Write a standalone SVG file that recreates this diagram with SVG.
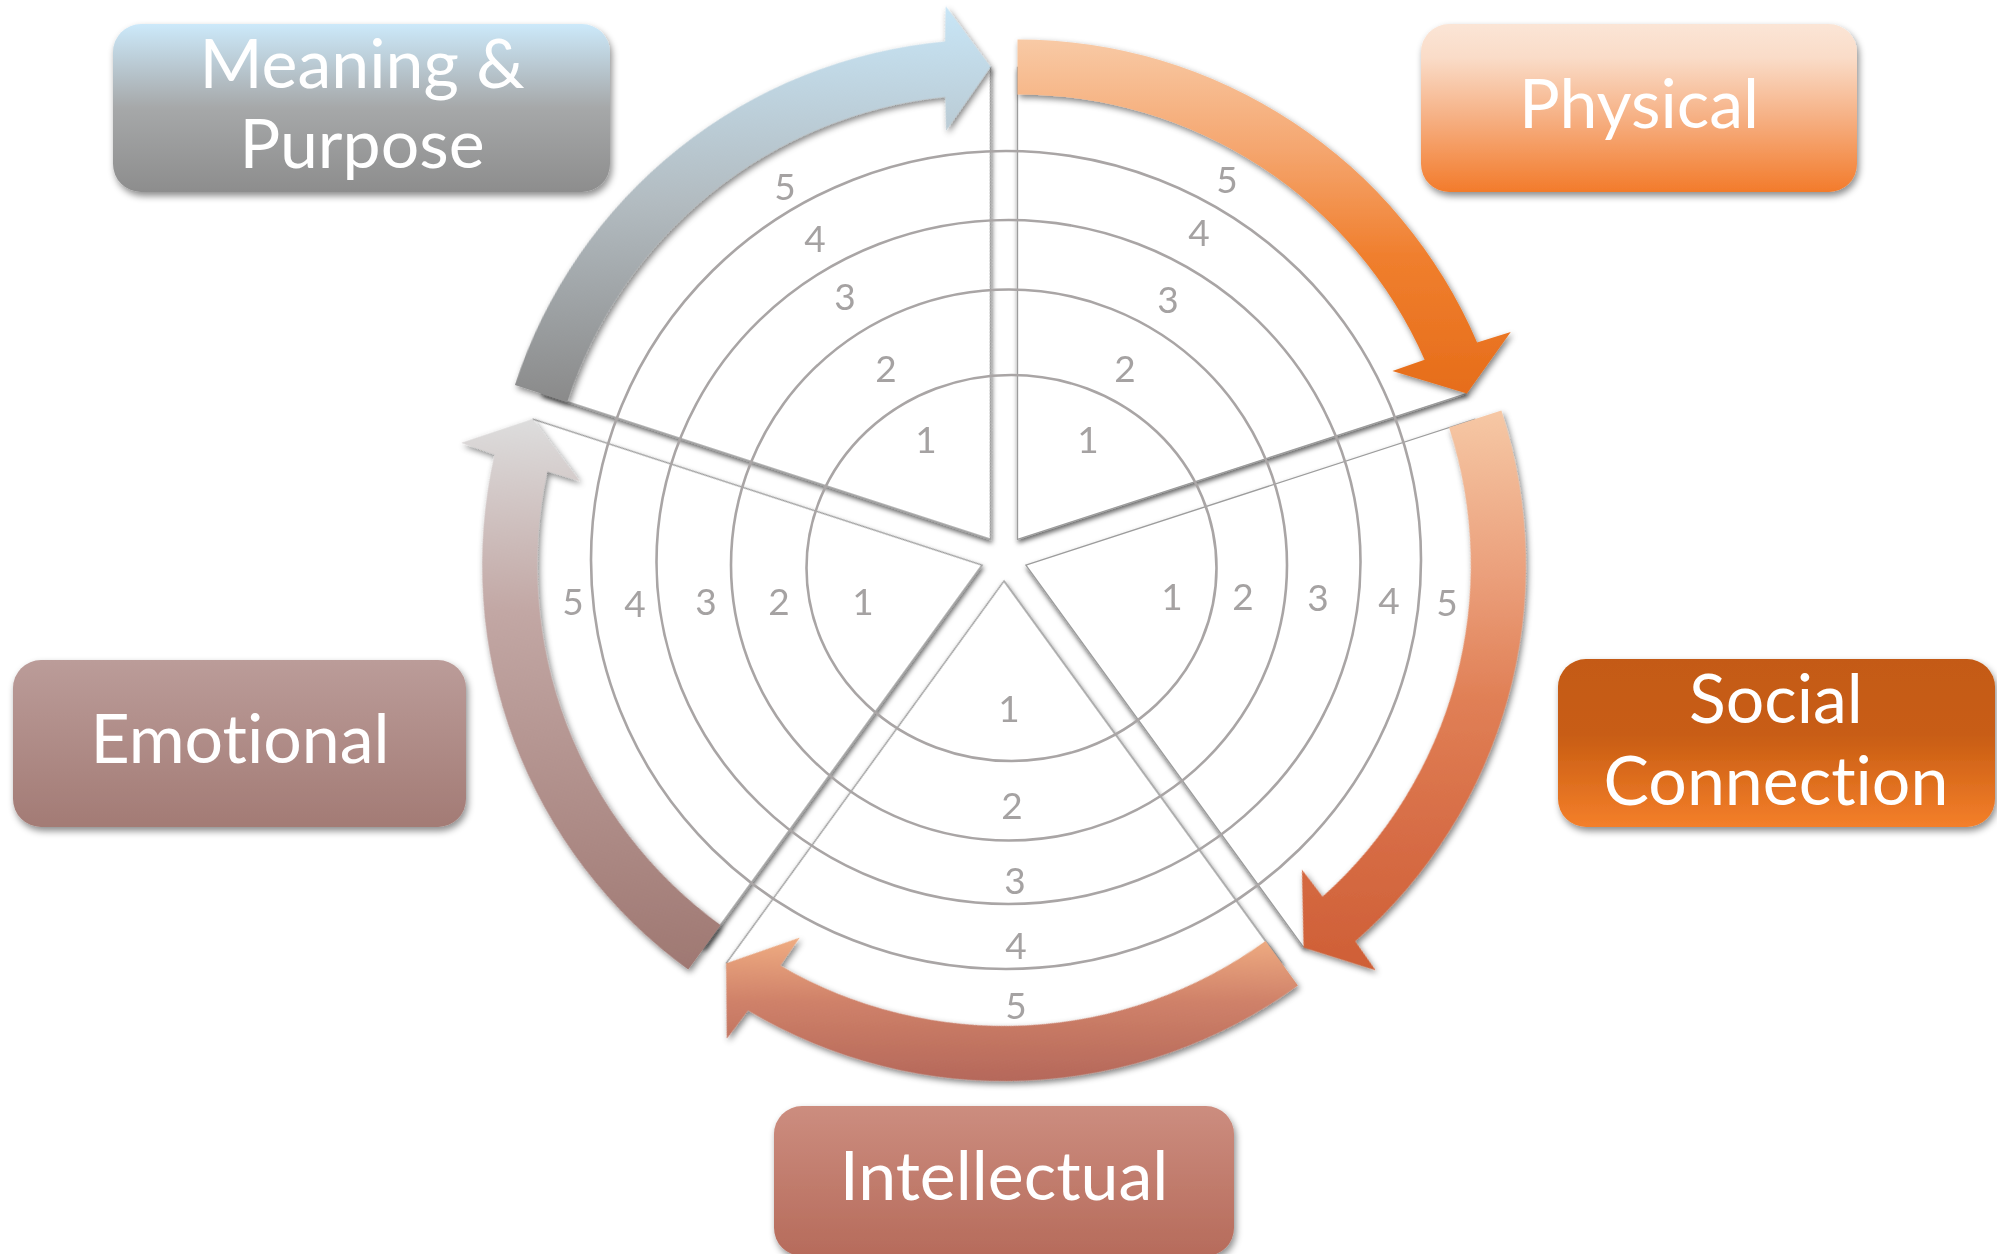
<svg xmlns="http://www.w3.org/2000/svg" width="1997" height="1254" viewBox="0 0 1997 1254">
  <style>
    .ring { fill: none; stroke: #a9a5a5; stroke-width: 2.6; }
    .wedge { fill: #ffffff; stroke: #9c9c9c; stroke-width: 1.3; }
    .num { font-family: Lato, "Open Sans", "Liberation Sans", sans-serif; font-size: 37px; fill: #a5a2a2; text-anchor: middle; }
    .title { font-family: Lato, "Open Sans", "Liberation Sans", sans-serif; font-size: 68px; fill: #ffffff; text-anchor: middle; font-variant-ligatures: none; font-feature-settings: "liga" 0, "clig" 0; }
  </style>
  <defs>
    <!-- soft shadow for the white pie wedges -->
    <filter id="wedgeShadow" x="-5%" y="-5%" width="110%" height="110%">
      <feGaussianBlur in="SourceAlpha" stdDeviation="2.8"/>
      <feOffset dx="1" dy="2.5" result="blur"/>
      <feFlood flood-color="#000000" flood-opacity="0.6"/>
      <feComposite in2="blur" operator="in"/>
      <feMerge><feMergeNode/><feMergeNode in="SourceGraphic"/></feMerge>
    </filter>
    <!-- shadow for the curved block arrows -->
    <filter id="arrowShadow" x="-5%" y="-5%" width="110%" height="110%">
      <feGaussianBlur in="SourceAlpha" stdDeviation="3"/>
      <feOffset dx="1.5" dy="3" result="blur"/>
      <feFlood flood-color="#000000" flood-opacity="0.5"/>
      <feComposite in2="blur" operator="in"/>
      <feMerge><feMergeNode/><feMergeNode in="SourceGraphic"/></feMerge>
    </filter>
    <!-- shadow for the label boxes -->
    <filter id="boxShadow" x="-5%" y="-10%" width="112%" height="125%">
      <feGaussianBlur in="SourceAlpha" stdDeviation="3.5"/>
      <feOffset dx="2" dy="4" result="blur"/>
      <feFlood flood-color="#000000" flood-opacity="0.45"/>
      <feComposite in2="blur" operator="in"/>
      <feMerge><feMergeNode/><feMergeNode in="SourceGraphic"/></feMerge>
    </filter>

    <!-- arrow fills: vertical in page space, undoing each arrow's rotation -->
    <linearGradient id="gPhysArrow" gradientUnits="userSpaceOnUse" x1="0" y1="39" x2="0" y2="393" gradientTransform="rotate(90) translate(-1017.52,-539.39)">
      <stop offset="0" stop-color="#f8caa6"/>
      <stop offset="0.31" stop-color="#f5a66f"/>
      <stop offset="0.61" stop-color="#f07f2e"/>
      <stop offset="1" stop-color="#e66d1a"/>
    </linearGradient>
    <linearGradient id="gSocArrow" gradientUnits="userSpaceOnUse" x1="0" y1="410" x2="0" y2="970" gradientTransform="rotate(18) translate(-1025.87,-565.11)">
      <stop offset="0" stop-color="#f6c8a5"/>
      <stop offset="0.29" stop-color="#eba07c"/>
      <stop offset="0.52" stop-color="#e07f55"/>
      <stop offset="0.75" stop-color="#d76d46"/>
      <stop offset="1" stop-color="#cf5f36"/>
    </linearGradient>
    <linearGradient id="gIntArrow" gradientUnits="userSpaceOnUse" x1="0" y1="937" x2="0" y2="1081" gradientTransform="rotate(-54) translate(-1004,-581)">
      <stop offset="0" stop-color="#f0ad82"/>
      <stop offset="0.45" stop-color="#cf8169"/>
      <stop offset="1" stop-color="#b5685a"/>
    </linearGradient>
    <linearGradient id="gEmoArrow" gradientUnits="userSpaceOnUse" x1="0" y1="419" x2="0" y2="970" gradientTransform="rotate(-126) translate(-982.13,-565.11)">
      <stop offset="0" stop-color="#dddddd"/>
      <stop offset="0.35" stop-color="#c2a7a4"/>
      <stop offset="1" stop-color="#9f7872"/>
    </linearGradient>
    <linearGradient id="gMeanArrow" gradientUnits="userSpaceOnUse" x1="0" y1="6" x2="0" y2="402" gradientTransform="rotate(-198) translate(-990.48,-539.39)">
      <stop offset="0" stop-color="#c8e6f7"/>
      <stop offset="0.5" stop-color="#b2bbc0"/>
      <stop offset="1" stop-color="#8a8a8a"/>
    </linearGradient>

    <!-- box fills -->
    <linearGradient id="gMeanBox" x1="0" y1="0" x2="0" y2="1">
      <stop offset="0" stop-color="#cce9fa"/>
      <stop offset="0.5" stop-color="#a6a8a9"/>
      <stop offset="1" stop-color="#8d8d8d"/>
    </linearGradient>
    <linearGradient id="gPhysBox" x1="0" y1="0" x2="0" y2="1">
      <stop offset="0" stop-color="#fbe5d6"/>
      <stop offset="0.2" stop-color="#fadcc8"/>
      <stop offset="0.55" stop-color="#f6b185"/>
      <stop offset="1" stop-color="#f37b2b"/>
    </linearGradient>
    <linearGradient id="gSocBox" x1="0" y1="0" x2="0" y2="1">
      <stop offset="0" stop-color="#c45a12"/>
      <stop offset="0.45" stop-color="#c85d13"/>
      <stop offset="1" stop-color="#f47f2a"/>
    </linearGradient>
    <linearGradient id="gEmoBox" x1="0" y1="0" x2="0" y2="1">
      <stop offset="0" stop-color="#bb9c99"/>
      <stop offset="1" stop-color="#a37b75"/>
    </linearGradient>
    <linearGradient id="gIntBox" x1="0" y1="0" x2="0" y2="1">
      <stop offset="0" stop-color="#cc8d7f"/>
      <stop offset="1" stop-color="#b66b5b"/>
    </linearGradient>
  </defs>

  <rect width="1997" height="1254" fill="#ffffff"/>

  <!-- exploded pie: five white wedges, each pushed 23px out along its bisector -->
  <g id="wheel" filter="url(#wedgeShadow)">
    <path id="wedge-physical" class="wedge" transform="translate(1017.52,539.39) rotate(-90)" d="M0,0 L472,0 A472,472 0 0,1 145.86,448.90 Z"/>
    <path id="wedge-social" class="wedge" transform="translate(1025.87,565.11) rotate(-18)" d="M0,0 L472,0 A472,472 0 0,1 145.86,448.90 Z"/>
    <path id="wedge-intellectual" class="wedge" transform="translate(1004,581) rotate(54)" d="M0,0 L472,0 A472,472 0 0,1 145.86,448.90 Z"/>
    <path id="wedge-emotional" class="wedge" transform="translate(982.13,565.11) rotate(126)" d="M0,0 L472,0 A472,472 0 0,1 145.86,448.90 Z"/>
    <path id="wedge-meaning" class="wedge" transform="translate(990.48,539.39) rotate(198)" d="M0,0 L472,0 A472,472 0 0,1 145.86,448.90 Z"/>
  </g>

  <!-- rating rings -->
  <g id="rings">
    <ellipse class="ring" cx="1011.5" cy="568" rx="205" ry="193"/>
    <ellipse class="ring" cx="1009" cy="565" rx="278" ry="275.5"/>
    <ellipse class="ring" cx="1008.5" cy="562" rx="352" ry="342"/>
    <ellipse class="ring" cx="1006" cy="560" rx="415" ry="409"/>
  </g>

  <!-- scale numbers, one run per segment -->
  <g id="scale-labels">
    <text class="num" x="1088" y="453">1</text>
    <text class="num" x="1125" y="381.5">2</text>
    <text class="num" x="1168" y="312.5">3</text>
    <text class="num" x="1199" y="245.5">4</text>
    <text class="num" x="1227" y="193">5</text>

    <text class="num" x="926" y="453">1</text>
    <text class="num" x="886" y="381.5">2</text>
    <text class="num" x="845" y="309.5">3</text>
    <text class="num" x="815" y="252">4</text>
    <text class="num" x="785" y="199.5">5</text>

    <text class="num" x="863" y="615">1</text>
    <text class="num" x="779" y="615">2</text>
    <text class="num" x="706" y="615">3</text>
    <text class="num" x="635" y="616.5">4</text>
    <text class="num" x="573" y="615">5</text>

    <text class="num" x="1172" y="609.5">1</text>
    <text class="num" x="1243" y="609.5">2</text>
    <text class="num" x="1318" y="611">3</text>
    <text class="num" x="1389" y="613.5">4</text>
    <text class="num" x="1447" y="615.5">5</text>

    <text class="num" x="1009" y="721.5">1</text>
    <text class="num" x="1012" y="818.5">2</text>
    <text class="num" x="1015" y="894">3</text>
    <text class="num" x="1016" y="958.5">4</text>
    <text class="num" x="1016" y="1018.5">5</text>
  </g>

  <!-- curved block arrows running clockwise from one segment to the next -->
  <g id="connectors" filter="url(#arrowShadow)">
    <path id="arrow-physical" fill="url(#gPhysArrow)" transform="translate(1017.52,539.39) rotate(-90)" d="M500,0 A500,500 0 0,1 196.97,459.57 L207.32,493.20 L146.01,449.38 L168.48,374.88 L179.69,407.10 A445,445 0 0,0 445,0 Z"/>
    <path id="arrow-social" fill="url(#gSocArrow)" transform="translate(1025.87,565.11) rotate(-18)" d="M500,0 A500,500 0 0,1 196.97,459.57 L207.32,493.20 L146.01,449.38 L168.48,374.88 L179.69,407.10 A445,445 0 0,0 445,0 Z"/>
    <path id="arrow-intellectual" fill="url(#gIntArrow)" transform="translate(1004,581) rotate(54)" d="M500,0 A500,500 0 0,1 196.97,459.57 L207.32,493.20 L146.01,449.38 L168.48,374.88 L179.69,407.10 A445,445 0 0,0 445,0 Z"/>
    <path id="arrow-emotional" fill="url(#gEmoArrow)" transform="translate(982.13,565.11) rotate(126)" d="M500,0 A500,500 0 0,1 196.97,459.57 L207.32,493.20 L146.01,449.38 L168.48,374.88 L179.69,407.10 A445,445 0 0,0 445,0 Z"/>
    <path id="arrow-meaning" fill="url(#gMeanArrow)" transform="translate(990.48,539.39) rotate(198)" d="M500,0 A500,500 0 0,1 196.97,459.57 L207.32,493.20 L146.01,449.38 L168.48,374.88 L179.69,407.10 A445,445 0 0,0 445,0 Z"/>
  </g>

  <!-- label boxes -->
  <g id="node-meaning" filter="url(#boxShadow)">
    <rect x="113" y="24" width="497" height="168" rx="28" fill="url(#gMeanBox)"/>
    <text class="title" x="362" y="88">Meaning &amp;</text>
    <text class="title" x="362" y="168">Purpose</text>
  </g>
  <g id="node-physical" filter="url(#boxShadow)">
    <rect x="1421" y="24" width="436" height="168" rx="28" fill="url(#gPhysBox)"/>
    <text class="title" x="1639" y="128">Physical</text>
  </g>
  <g id="node-social" filter="url(#boxShadow)">
    <rect x="1558" y="659" width="437" height="168" rx="28" fill="url(#gSocBox)"/>
    <text class="title" x="1776" y="723">Social</text>
    <text class="title" x="1776" y="805">Connection</text>
  </g>
  <g id="node-emotional" filter="url(#boxShadow)">
    <rect x="13" y="660" width="453" height="167" rx="28" fill="url(#gEmoBox)"/>
    <text class="title" x="240" y="763">Emotional</text>
  </g>
  <g id="node-intellectual" filter="url(#boxShadow)">
    <rect x="774" y="1106" width="460" height="150" rx="28" fill="url(#gIntBox)"/>
    <text class="title" x="1004" y="1200">Intellectual</text>
  </g>
</svg>
